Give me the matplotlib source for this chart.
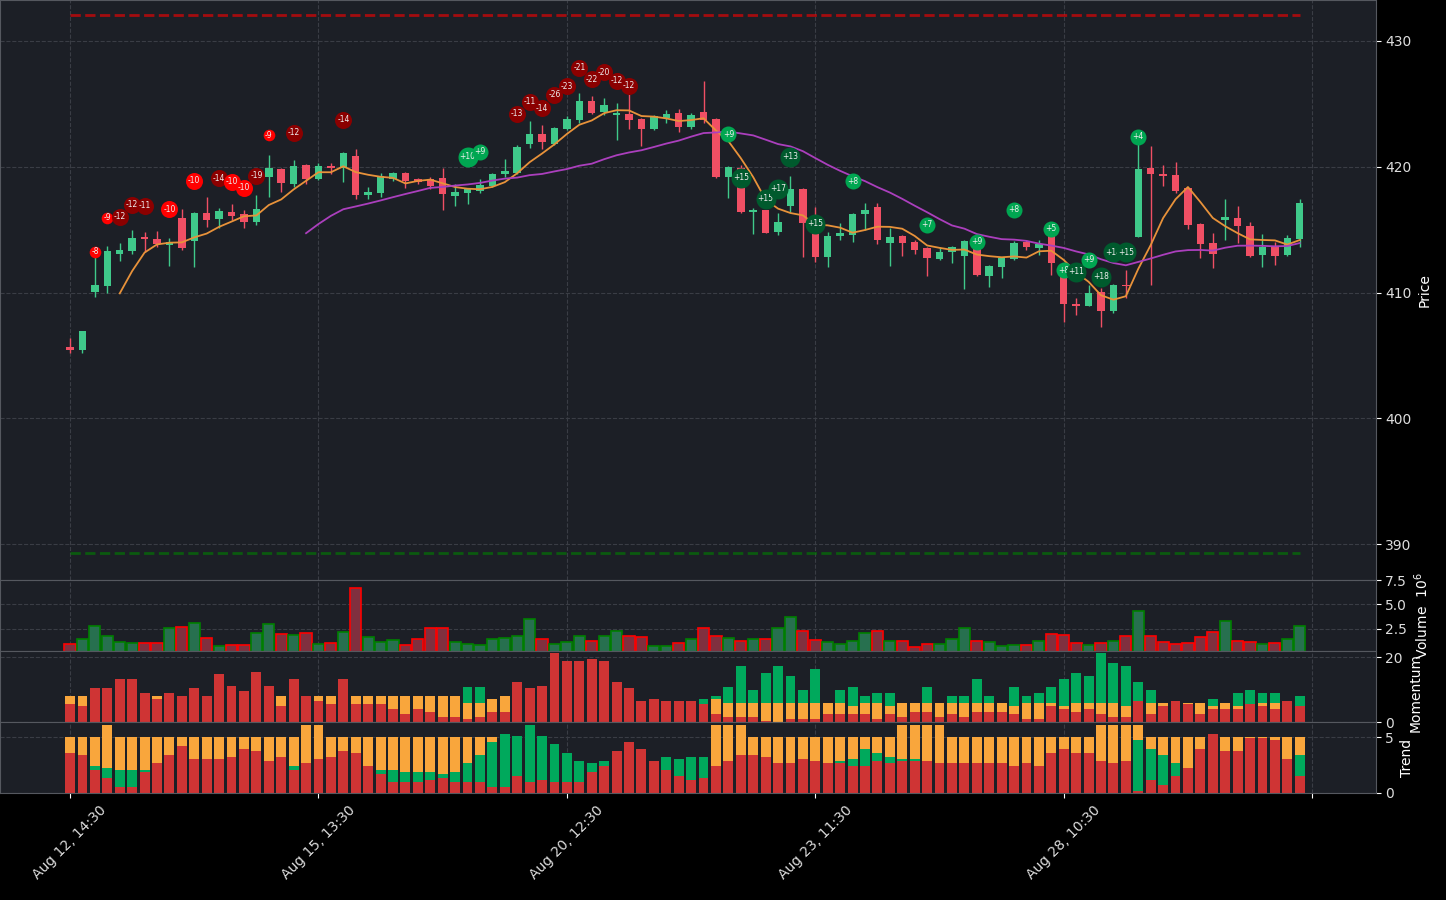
import numpy as np
import pandas as pd
import matplotlib
matplotlib.use('Agg')
import matplotlib.pyplot as plt

# hourly bars, Aug 12 14:30 .. Aug 30 15:30
opens = [405.70, 405.43, 410.06, 410.54, 413.09, 413.30, 414.40, 414.25, 413.78, 415.92,
         414.10, 416.32, 415.87, 416.40, 416.22, 415.63, 419.21, 419.82, 418.65, 420.14,
         419.05, 420.06, 419.92, 420.85, 417.78, 417.94, 419.00, 419.50, 419.02, 419.00,
         419.08, 417.70, 417.94, 418.07, 418.47, 419.42, 419.53, 421.81, 422.60, 421.81,
         423.00, 423.72, 425.23, 424.33, 424.11, 424.17, 423.80, 423.00, 423.90, 424.27,
         423.19, 424.35, 423.80, 419.21, 419.88, 416.42, 416.56, 414.84, 416.90, 418.23,
         414.84, 412.85, 414.50, 414.57, 416.24, 416.78, 413.96, 414.49, 414.00, 413.56,
         412.66, 413.25, 412.90, 414.04, 411.31, 412.05, 412.66, 414.04, 413.56, 414.57,
         411.26, 409.11, 408.95, 410.02, 408.53, 410.60, 414.44, 419.88, 419.42, 419.34,
         418.29, 415.42, 413.91, 415.79, 415.92, 415.29, 412.98, 413.62, 412.98, 414.28]
highs = [406.38, 406.95, 412.85, 413.72, 413.91, 414.97, 414.79, 414.89, 414.30, 416.63,
         416.40, 417.56, 416.70, 417.00, 416.60, 417.74, 420.93, 419.90, 420.50, 420.20,
         420.30, 420.30, 421.15, 421.40, 418.40, 419.50, 419.60, 419.60, 419.10, 419.20,
         419.90, 418.60, 418.20, 419.00, 419.50, 420.60, 421.70, 423.60, 423.30, 423.15,
         424.00, 425.90, 425.60, 425.50, 425.10, 425.76, 423.85, 424.10, 424.50, 424.60,
         424.30, 426.82, 423.85, 420.05, 420.10, 416.70, 416.60, 416.30, 419.26, 418.30,
         416.82, 414.80, 415.50, 416.30, 417.09, 417.10, 415.10, 414.55, 414.20, 413.65,
         413.60, 413.70, 414.20, 414.10, 412.20, 412.85, 414.10, 414.20, 414.20, 414.70,
         411.30, 409.54, 410.60, 410.33, 410.70, 411.79, 421.86, 421.65, 420.10, 420.35,
         418.35, 415.50, 414.70, 417.44, 416.90, 415.60, 414.65, 414.00, 414.55, 417.44]
lows = [405.19, 405.17, 409.67, 409.94, 412.53, 413.06, 413.24, 413.64, 412.10, 413.40,
        412.00, 415.20, 415.10, 415.80, 415.10, 415.40, 417.62, 417.97, 418.40, 418.60,
        418.95, 419.40, 418.80, 417.40, 417.40, 417.60, 418.90, 418.30, 418.60, 418.20,
        416.60, 416.90, 417.00, 417.90, 418.40, 419.20, 419.45, 421.50, 421.40, 421.75,
        422.90, 423.50, 424.20, 424.10, 422.10, 423.00, 421.67, 422.90, 423.50, 422.80,
        423.00, 423.50, 419.10, 417.54, 416.30, 414.63, 414.70, 414.60, 416.42, 412.85,
        412.40, 412.05, 414.20, 414.04, 414.97, 413.83, 412.13, 412.93, 413.10, 411.34,
        412.60, 412.32, 410.25, 411.30, 410.47, 411.18, 412.60, 413.40, 412.98, 411.39,
        407.68, 408.20, 408.90, 407.28, 408.34, 409.54, 414.40, 410.60, 418.49, 417.90,
        415.05, 412.72, 411.92, 414.15, 413.91, 412.80, 412.05, 412.20, 412.90, 413.64]
closes = [405.45, 406.93, 410.60, 413.30, 413.38, 414.33, 414.28, 413.83, 413.99, 413.51,
          416.32, 415.79, 416.50, 416.08, 415.63, 416.64, 419.93, 418.73, 420.06, 419.05,
          420.06, 419.92, 421.09, 417.75, 417.99, 419.26, 419.50, 418.87, 418.76, 418.49,
          417.80, 418.02, 418.20, 418.55, 419.42, 419.68, 421.57, 422.60, 421.99, 423.08,
          423.80, 425.23, 424.30, 424.90, 424.25, 423.72, 423.00, 424.06, 424.20, 423.19,
          424.11, 423.72, 419.20, 419.98, 416.42, 416.56, 414.76, 415.63, 418.23, 415.50,
          412.85, 414.50, 414.70, 416.24, 416.56, 414.17, 414.43, 413.96, 413.38, 412.77,
          413.22, 413.62, 414.10, 411.39, 412.13, 412.77, 413.96, 413.64, 413.88, 412.37,
          409.11, 408.95, 409.96, 408.53, 410.60, 410.49, 419.82, 419.40, 419.29, 418.07,
          415.37, 413.86, 413.06, 416.00, 415.31, 412.90, 413.62, 412.90, 414.33, 417.12]
volume = [0.96, 1.43, 2.85, 1.74, 1.13, 1.03, 1.03, 1.03, 2.55, 2.75,
          3.15, 1.54, 0.73, 0.83, 0.83, 2.04, 3.05, 1.94, 1.84, 2.04,
          0.93, 1.03, 2.14, 6.70, 1.64, 1.13, 1.33, 0.83, 1.43, 2.55,
          2.55, 1.13, 0.93, 0.83, 1.43, 1.54, 1.74, 3.56, 1.43, 0.93,
          1.13, 1.74, 1.23, 1.74, 2.34, 1.74, 1.64, 0.73, 0.73, 1.03,
          1.43, 2.55, 1.74, 1.54, 1.23, 1.43, 1.43, 2.55, 3.76, 2.34,
          1.33, 1.13, 0.93, 1.23, 2.04, 2.34, 1.23, 1.23, 0.62, 0.93,
          0.93, 1.43, 2.55, 1.23, 1.13, 0.73, 0.83, 0.83, 1.23, 1.94,
          1.84, 1.03, 0.83, 1.03, 1.23, 1.74, 4.37, 1.74, 1.13, 0.93,
          1.03, 1.64, 2.14, 3.36, 1.23, 1.13, 0.93, 1.03, 1.43, 2.85]

mom_red = [5.65, 5.02, 10.67, 10.67, 13.19, 13.19, 9.10, 7.22, 9.10, 8.16,
           10.67, 8.16, 14.76, 11.30, 9.73, 15.38, 11.30, 5.02, 13.19, 8.16,
           6.59, 5.65, 13.19, 5.65, 5.65, 5.65, 4.08, 2.51, 4.08, 3.14,
           1.57, 1.57, 0.94, 1.57, 3.14, 3.14, 12.24, 10.67, 11.30, 21.35,
           18.84, 18.84, 19.47, 18.84, 12.24, 10.67, 6.59, 7.22, 6.59, 6.59,
           6.59, 5.65, 2.51, 1.57, 1.57, 1.57, 0.31, 0.10, 0.94, 0.94,
           0.94, 2.51, 2.51, 2.51, 2.51, 0.94, 2.51, 1.57, 3.14, 3.14,
           1.57, 2.51, 1.57, 3.14, 3.14, 3.14, 2.51, 0.94, 0.94, 5.02,
           4.08, 3.14, 4.08, 2.51, 1.57, 1.57, 6.59, 2.51, 5.02, 6.59,
           5.65, 2.51, 4.08, 4.08, 4.08, 5.65, 5.02, 4.08, 6.59, 5.02]
mom_orange = [2.51, 3.14, 0, 0, 0, 0, 0, 0.94, 0, 0,
              0, 0, 0, 0, 0, 0, 0, 3.14, 0, 0,
              1.57, 2.51, 0, 2.51, 2.51, 2.51, 4.08, 5.65, 4.08, 5.02,
              6.59, 6.59, 5.02, 4.40, 4.08, 5.02, 0, 0, 0, 0,
              0, 0, 0, 0, 0, 0, 0, 0, 0, 0,
              0, 0, 4.71, 4.40, 4.40, 4.40, 5.65, 5.86, 5.02, 5.02,
              5.02, 3.45, 3.45, 2.51, 3.45, 5.02, 2.51, 4.40, 2.83, 2.83,
              4.40, 3.45, 4.40, 2.83, 2.83, 2.83, 2.51, 5.02, 5.02, 0.94,
              0.94, 2.83, 1.88, 3.45, 4.40, 3.45, 0, 3.45, 0.94, 0,
              0.31, 3.45, 0.94, 1.88, 0.94, 0, 0.94, 1.88, 0, 0]
mom_green = [0, 0, 0, 0, 0, 0, 0, 0, 0, 0,
             0, 0, 0, 0, 0, 0, 0, 0, 0, 0,
             0, 0, 0, 0, 0, 0, 0, 0, 0, 0,
             0, 0, 5.02, 5.02, 0, 0, 0, 0, 0, 0,
             0, 0, 0, 0, 0, 0, 0, 0, 0, 0,
             0, 1.57, 0.94, 5.02, 11.30, 4.08, 9.10, 11.30, 8.16, 4.08,
             10.36, 0, 4.08, 5.97, 2.20, 3.14, 4.08, 0, 0, 5.02,
             0, 2.20, 2.20, 7.22, 2.20, 0, 5.97, 2.20, 3.14, 5.02,
             8.16, 9.10, 8.16, 15.38, 12.24, 12.24, 5.65, 4.08, 0, 0,
             0, 0, 2.20, 0, 4.08, 4.40, 3.14, 3.14, 0, 3.14]

trend_red = [3.57, 3.39, 2.02, 1.31, 0.54, 0.54, 1.85, 2.68, 3.39, 4.20,
             3.04, 3.04, 3.04, 3.21, 3.93, 3.75, 2.86, 3.21, 2.02, 2.68,
             3.04, 3.21, 3.75, 3.57, 2.41, 1.67, 0.95, 0.95, 0.95, 1.13,
             1.31, 0.95, 0.95, 0.95, 0.54, 0.54, 1.49, 0.95, 1.13, 0.95,
             0.95, 0.95, 1.85, 2.41, 3.75, 4.55, 3.93, 2.86, 2.02, 1.49,
             1.13, 1.31, 2.41, 2.86, 3.39, 3.39, 3.21, 2.68, 2.68, 3.04,
             2.86, 2.68, 2.68, 2.41, 2.41, 2.86, 2.68, 2.86, 2.86, 2.86,
             2.68, 2.68, 2.68, 2.68, 2.68, 2.68, 2.41, 2.68, 2.41, 3.57,
             3.93, 3.57, 3.57, 2.86, 2.68, 2.86, 0.18, 1.16, 0.71, 1.52,
             2.23, 3.93, 5.27, 3.75, 3.75, 4.91, 4.91, 4.73, 3.04, 1.52]
trend_green = [0, 0, 0.39, 0.92, 1.52, 1.52, 0.21, 0, 0, 0,
               0, 0, 0, 0, 0, 0, 0, 0, 0.39, 0,
               0, 0, 0, 0, 0, 0.39, 1.10, 0.92, 0.92, 0.74,
               0.39, 0.92, 1.73, 2.44, 4.02, 4.73, 3.60, 5.12, 3.96, 3.42,
               2.62, 1.90, 0.83, 0.45, 0, 0, 0, 0, 1.19, 1.55,
               2.08, 1.90, 0, 0, 0, 0, 0, 0, 0, 0,
               0, 0, 0.18, 0.63, 1.52, 0.71, 0.54, 0.18, 0.18, 0,
               0, 0, 0, 0, 0, 0, 0, 0, 0, 0,
               0, 0, 0, 0, 0, 0, 4.55, 2.77, 2.68, 1.16,
               0, 0, 0, 0, 0, 0, 0, 0, 0, 1.88]
trend_orange = [1.40, 1.58, 2.56, 3.84, 2.92, 2.92, 2.92, 2.29, 1.58, 0.77,
                1.93, 1.93, 1.93, 1.76, 1.04, 1.22, 2.11, 1.76, 2.56, 3.39,
                3.04, 1.76, 1.22, 1.40, 2.56, 2.92, 2.92, 3.10, 3.10, 3.10,
                3.27, 3.10, 2.29, 1.58, 0.42, 0, 0, 0, 0, 0,
                0, 0, 0, 0, 0, 0, 0, 0, 0, 0,
                0, 0, 3.66, 3.21, 2.68, 1.58, 1.76, 2.29, 2.29, 1.93,
                2.11, 2.29, 2.11, 1.93, 1.04, 1.40, 1.76, 3.04, 3.04, 3.21,
                3.39, 2.29, 2.29, 2.29, 2.29, 2.29, 2.56, 2.29, 2.56, 1.40,
                1.04, 1.40, 1.40, 3.21, 3.39, 3.21, 1.34, 1.04, 1.58, 2.29,
                2.74, 1.04, 0, 1.22, 1.22, 0.06, 0.06, 0.24, 1.93, 1.58]

# signal bubbles: bar index, price level, score
sig_idx = [2, 3, 4, 5, 6, 8, 10, 12, 13, 14, 15, 16, 18, 22, 32, 33, 36, 37, 38, 39,
           40, 41, 42, 43, 44, 45, 53, 54, 56, 57, 58, 60, 63, 69, 73, 76, 79, 80, 81, 82,
           83, 84, 85, 86]
sig_price = [413.25, 415.95, 416.03, 416.96, 416.90, 416.62, 418.89, 419.08, 418.81, 418.33,
             419.29, 422.52, 422.71, 423.74, 420.78, 421.20, 424.22, 425.17, 424.65, 425.73,
             426.40, 427.88, 426.95, 427.51, 426.84, 426.45, 422.58, 419.13, 417.46, 418.26,
             420.80, 415.47, 418.84, 415.39, 414.04, 416.59, 415.08, 411.79, 411.66, 412.61,
             411.26, 413.19, 413.19, 422.39]
sig_value = [-8, -9, -12, -12, -11, -10, -10, -14, -10, -10, -19, -9, -12, -14, 10, 9, -13, -11, -14, -26,
             -23, -21, -22, -20, -12, -12, 9, 15, 15, 17, 13, 15, 8, 7, 9, 8, 5, 8, 11, 9,
             18, 14, 15, 4]

resistance = 432.07
support = 389.28

tick_pos = [0, 20, 40, 60, 80, 100]
tick_labels = ['Aug 12, 14:30', 'Aug 15, 13:30', 'Aug 20, 12:30', 'Aug 23, 11:30', 'Aug 28, 10:30', '']

x = np.arange(len(closes))
o = np.array(opens); c = np.array(closes)
sma5 = pd.Series(closes).rolling(5).mean()
sma20 = pd.Series(closes).rolling(20).mean()

BG = '#1c1f26'
GRID = '#3a3d45'
SPINE = '#55585f'
UP = '#3fc98a'
DOWN = '#f04f64'
M_RED = '#cf3434'
M_ORANGE = '#f9a63c'
M_GREEN = '#00a95c'

fig = plt.figure(figsize=(14.46, 9), dpi=100, facecolor='black')
W = 1375.5 / 1446

def rect(top, bot):
    return [0, 1 - bot / 900, W, (bot - top) / 900]

ax = fig.add_axes(rect(0, 580))
axv = fig.add_axes(rect(580, 651), sharex=ax)
axm = fig.add_axes(rect(651, 722), sharex=ax)
axt = fig.add_axes(rect(722, 793), sharex=ax)

for a in (ax, axv, axm, axt):
    a.set_facecolor(BG)
    a.grid(True, linestyle='--', color=GRID, linewidth=0.8)
    a.set_axisbelow(True)
    for s in a.spines.values():
        s.set_color(SPINE)
    a.yaxis.tick_right()
    a.yaxis.set_label_position('right')
    a.tick_params(axis='y', colors='white', labelcolor='#dddddd', labelsize=10)
    a.tick_params(axis='x', colors='white', labelcolor='#dddddd', labelsize=10)

# price candles
up = c >= o
cols = np.where(up, UP, DOWN)
ax.vlines(x, lows, highs, colors=cols, linewidth=1, zorder=2)
body = np.maximum(np.abs(c - o), 0.06)
ax.bar(x, body, bottom=np.minimum(o, c), width=0.6, color=cols, zorder=3)
ax.plot(x, sma5, color='#e8923a', linewidth=1.3, zorder=4)
ax.plot(x, sma20, color='#ab3fbd', linewidth=1.3, zorder=4)
ax.hlines(resistance, 0, len(x) - 1, colors='red', alpha=0.6, linestyles='--', linewidth=2)
ax.hlines(support, 0, len(x) - 1, colors='green', alpha=0.6, linestyles='--', linewidth=2)

for k, (i, p, v) in enumerate(zip(sig_idx, sig_price, sig_value)):
    strong = abs(v) > 10
    big = abs(v) >= 10
    if v < 0:
        col = '#8b0000' if strong else '#ff0000'
        size = 150 if big else 70
    else:
        col = '#005a2d' if strong else '#00a651'
        size = 207 if big else 133
    ax.scatter(i, p, s=size, color=col, zorder=10 + 2 * k, linewidths=0)
    ax.text(i, p, '%+d' % v, color='#eeeeee', fontsize=5.5, ha='center', va='center',
            zorder=11 + 2 * k)

ax.set_ylim(387.14, 433.26)
ax.set_yticks([390, 400, 410, 420, 430])
ax.set_ylabel('Price', color='white', fontsize=10)

# volume
vface = np.where(up, '#27704f', '#80303f')
vedge = np.where(up, '#008000', '#ff0000')
axv.bar(x, volume, width=0.9, color=vface, edgecolor=vedge, linewidth=1.2)
axv.set_ylim(0.25, 7.5)
axv.set_yticks([2.5, 5.0, 7.5])
axv.set_ylabel('Volume  $10^6$', color='white', fontsize=10)

# momentum
mr = np.array(mom_red); mo = np.array(mom_orange); mg = np.array(mom_green)
axm.bar(x, mr, width=0.8, color=M_RED)
axm.bar(x, mo, bottom=mr, width=0.8, color=M_ORANGE)
axm.bar(x, mg, bottom=mr + mo, width=0.8, color=M_GREEN)
axm.set_ylim(0, 22)
axm.set_yticks([0, 20])
axm.set_ylabel('Momentum', color='white', fontsize=10, y=0.42)

# trend
tr = np.array(trend_red); tg = np.array(trend_green); to = np.array(trend_orange)
axt.bar(x, tr, width=0.8, color=M_RED)
axt.bar(x, tg, bottom=tr, width=0.8, color=M_GREEN)
axt.bar(x, to, bottom=tr + tg, width=0.8, color=M_ORANGE)
axt.set_ylim(0, 6.35)
axt.set_yticks([0, 5])
axt.set_ylabel('Trend', color='white', fontsize=10)

ax.set_xlim(-5.64, 105.1)
axt.set_xticks(tick_pos)
axt.set_xticklabels(tick_labels, rotation=45, ha='center')
for a in (ax, axv, axm):
    a.tick_params(axis='x', length=0, labelbottom=False)

fig.savefig('out.png', dpi=100, facecolor='black')
